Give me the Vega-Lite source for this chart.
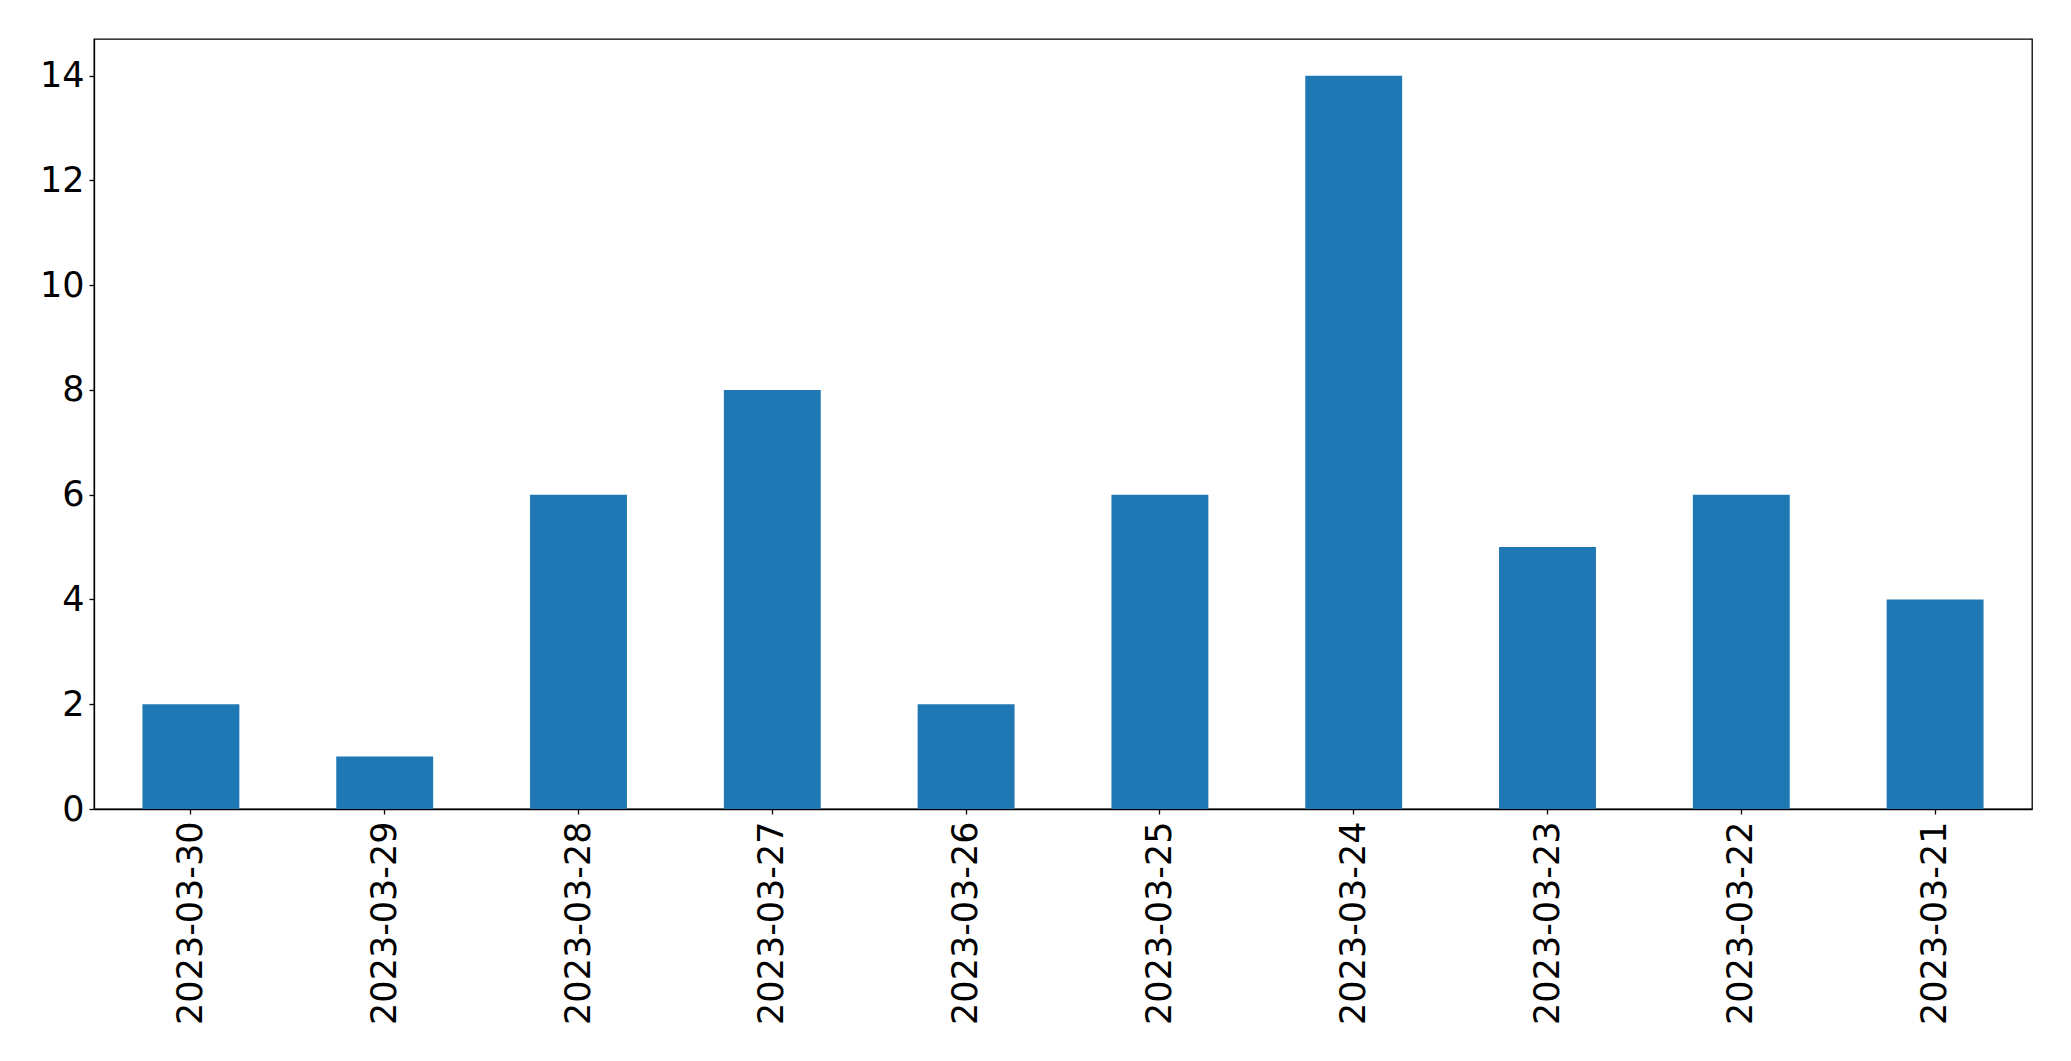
{
  "$schema": "https://vega.github.io/schema/vega-lite/v6.json",
  "autosize": {"type": "none"},
  "width": 1938,
  "height": 770,
  "padding": {"left": 94, "top": 39, "right": 39, "bottom": 252},
  "background": "white",
  "config": {
    "view": {"stroke": "black", "strokeWidth": 1.3},
    "font": "DejaVu Sans",
    "axis": {
      "grid": false,
      "domainColor": "black",
      "domainWidth": 1.3,
      "tickColor": "black",
      "tickWidth": 1.3,
      "tickSize": 5,
      "labelFont": "DejaVu Sans",
      "labelFontSize": 35,
      "labelColor": "black",
      "labelLimit": 0,
      "title": null
    }
  },
  "data": {
    "values": [
      {"date": "2023-03-30", "count": 2},
      {"date": "2023-03-29", "count": 1},
      {"date": "2023-03-28", "count": 6},
      {"date": "2023-03-27", "count": 8},
      {"date": "2023-03-26", "count": 2},
      {"date": "2023-03-25", "count": 6},
      {"date": "2023-03-24", "count": 14},
      {"date": "2023-03-23", "count": 5},
      {"date": "2023-03-22", "count": 6},
      {"date": "2023-03-21", "count": 4}
    ]
  },
  "mark": {"type": "bar", "color": "#1f77b4"},
  "encoding": {
    "x": {
      "field": "date",
      "type": "nominal",
      "sort": null,
      "scale": {"paddingInner": 0.5, "paddingOuter": 0.25},
      "axis": {"labelAngle": -90, "labelPadding": 7, "labelAlign": "right", "labelBaseline": "middle", "labelLimit": 0}
    },
    "y": {
      "field": "count",
      "type": "quantitative",
      "scale": {"domain": [0, 14.7], "nice": false},
      "axis": {"values": [0, 2, 4, 6, 8, 10, 12, 14], "labelPadding": 5}
    }
  }
}
